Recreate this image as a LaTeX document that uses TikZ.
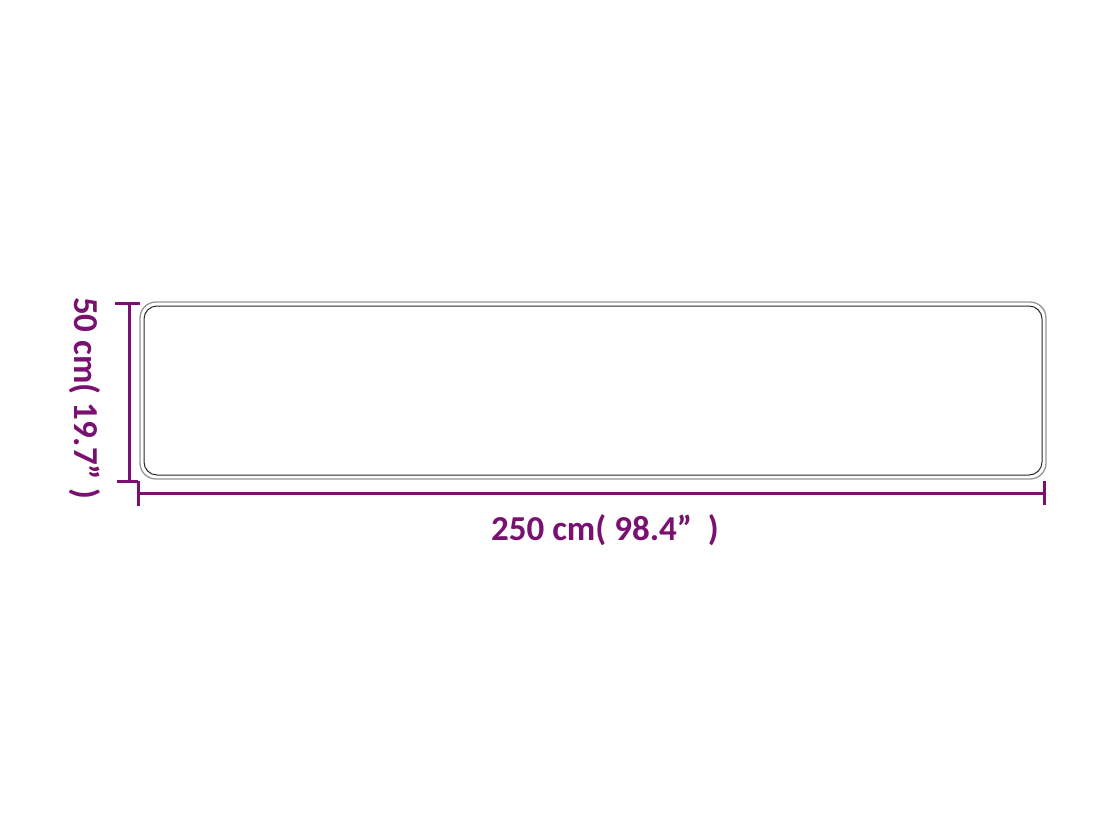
\documentclass[tikz,border=0pt]{standalone}
\usepackage{fontspec}
\setmainfont{Carlito}
\definecolor{dimpurple}{RGB}{122,16,112}
\definecolor{rimgray}{RGB}{150,150,150}
\definecolor{rugline}{RGB}{40,40,40}
\begin{document}
\begin{tikzpicture}[x=1pt,y=-1pt,
  dimline/.style={draw=dimpurple,line width=3pt},
  dimlabel/.style={text=dimpurple,font=\fontsize{35}{40}\selectfont\bfseries,inner sep=0pt}]
\useasboundingbox[fill=white] (0,0) rectangle (1118,838);
% rug
\draw[rimgray,line width=1.3pt,rounded corners=16pt] (140,302) rectangle (1046,479);
\draw[rugline,line width=1pt,rounded corners=13pt] (144,306) rectangle (1042,475);
% vertical dimension
\coordinate (vt) at (129,303);
\coordinate (vb) at (129,481);
\draw[dimline] (vt) -- (vb);
\draw[dimline] ([xshift=-14pt]vt) -- ([xshift=11pt]vt);
\draw[dimline] ([xshift=-12pt]vb) -- ([xshift=9pt]vb);
% horizontal dimension
\coordinate (hl) at (138,493);
\coordinate (hr) at (1044,493);
\draw[dimline] (hl) -- (hr);
\draw[dimline] ([yshift=-13pt]hl) -- ([yshift=12pt]hl);
\draw[dimline] ([yshift=-12pt]hr) -- ([yshift=12pt]hr);
% labels
\node[dimlabel] (hlabel) at (605,530) {250 cm( 98.4”\ \ )};
\node[dimlabel,rotate=-90] (vlabel) at (85,398) {50 cm( 19.7” )};
\end{tikzpicture}
\end{document}
